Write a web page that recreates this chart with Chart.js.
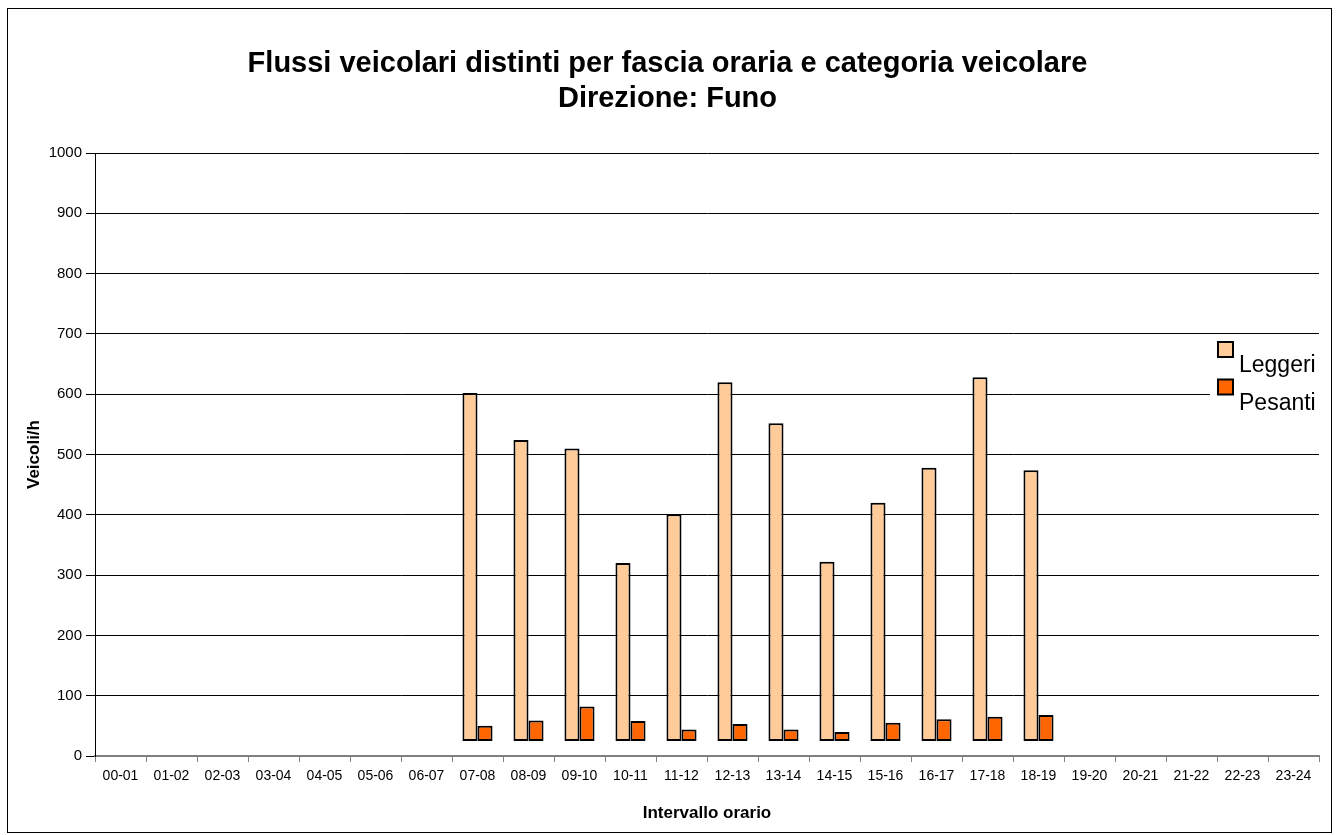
<!DOCTYPE html>
<html>
<head>
<meta charset="utf-8">
<title>Flussi veicolari - Direzione Funo</title>
<script src="https://cdn.jsdelivr.net/npm/chart.js@4/dist/chart.umd.min.js"></script>
<style>
  html, body { margin: 0; padding: 0; background: #fff; }
  #wrap { width: 1338px; height: 835px; position: relative; }
</style>
</head>
<body>
<div id="wrap"><canvas id="chart"></canvas></div>
<script>
// fasce orarie
const hours = ['00-01', '01-02', '02-03', '03-04', '04-05', '05-06', '06-07', '07-08',
  '08-09', '09-10', '10-11', '11-12', '12-13', '13-14', '14-15', '15-16', '16-17',
  '17-18', '18-19', '19-20', '20-21', '21-22', '22-23', '23-24'];

// veicoli/h (rilievo 07-19)
const leggeri = [null, null, null, null, null, null, null, 602,
  524, 510, 320, 401, 620, 552, 322, 420, 478, 628, 474,
  null, null, null, null, null];
const pesanti = [null, null, null, null, null, null, null, 50,
  59, 82, 58, 44, 53, 44, 40, 55, 61, 65, 68,
  null, null, null, null, null];

const yTicks = [0, 100, 200, 300, 400, 500, 600, 700, 800, 900, 1000];

// base "3D" delle colonne come nel grafico excel
const FLOOR = 25;
const floating = arr => arr.map(v => v == null ? null : [FLOOR, v]);

const FONT = "'Liberation Sans', Arial, sans-serif";

// legenda sovrapposta all'area del grafico, a destra
const sideLegend = {
  id: 'sideLegend',
  afterDraw(chart) {
    const ctx = chart.ctx;
    ctx.save();
    ctx.fillStyle = '#fff';
    ctx.fillRect(1210, 336, 120, 78);
    chart.data.datasets.forEach((ds, i) => {
      const y = 342 + i * 37.5;
      ctx.fillStyle = ds.backgroundColor;
      ctx.fillRect(1218, y, 15, 15);
      ctx.lineWidth = 2;
      ctx.strokeStyle = '#000';
      ctx.strokeRect(1218, y, 15, 15);
      ctx.fillStyle = '#000';
      ctx.font = `23px ${FONT}`;
      ctx.textBaseline = 'alphabetic';
      ctx.fillText(ds.label, 1239, y + 30);
    });
    ctx.restore();
  }
};

const frame = {
  id: 'frame',
  afterDraw(chart) {
    const ctx = chart.ctx;
    ctx.save();
    ctx.strokeStyle = '#000';
    ctx.lineWidth = 1;
    ctx.strokeRect(7.5, 8.5, 1324, 824);
    ctx.restore();
  }
};

new Chart(document.getElementById('chart'), {
  type: 'bar',
  data: {
    labels: hours,
    datasets: [
      {
        label: 'Leggeri',
        data: floating(leggeri),
        backgroundColor: '#FFCC99',
        borderColor: '#000',
        borderWidth: 2,
        borderSkipped: false
      },
      {
        label: 'Pesanti',
        data: floating(pesanti),
        backgroundColor: '#FF6600',
        borderColor: '#000',
        borderWidth: 2,
        borderSkipped: false
      }
    ]
  },
  options: {
    responsive: true,
    maintainAspectRatio: false,
    animation: false,
    datasets: { bar: { categoryPercentage: 0.59, barPercentage: 1.0 } },
    layout: { padding: { left: 16, right: 19, top: 0, bottom: 9 } },
    scales: {
      x: {
        grid: { drawOnChartArea: false, drawTicks: true, tickLength: 6, color: '#808080', offset: true },
        border: { color: '#808080', width: 2 },
        ticks: {
          color: '#000', autoSkip: false, maxRotation: 0, padding: 6,
          font: { family: FONT, size: 14 }
        },
        title: {
          display: true, text: 'Intervallo orario', color: '#000',
          font: { family: FONT, size: 17, weight: 'bold' },
          padding: { top: 0, bottom: 2 }
        },
        afterFit: s => { s.height = 70; }
      },
      y: {
        min: 0,
        max: 1000,
        afterBuildTicks: s => { s.ticks = yTicks.map(v => ({ value: v })); },
        grid: { color: '#000', lineWidth: 1, tickLength: 9 },
        border: { color: '#000', width: 1 },
        ticks: {
          color: '#000', padding: 4,
          font: { family: FONT, size: 15 },
          callback: v => String(v)
        },
        title: {
          display: true, text: 'Veicoli/h', color: '#000',
          font: { family: FONT, size: 17, weight: 'bold' },
          padding: { top: 8, bottom: 0 }
        },
        afterFit: s => { s.width = 79; }
      }
    },
    plugins: {
      legend: { display: false },
      tooltip: { enabled: false },
      title: {
        display: true,
        text: ['Flussi veicolari distinti per fascia oraria e categoria veicolare', 'Direzione: Funo'],
        color: '#000',
        font: { family: FONT, size: 29, weight: 'bold', lineHeight: 1.19 },
        padding: { top: 47, bottom: 37 }
      }
    }
  },
  plugins: [sideLegend, frame]
});
</script>
</body>
</html>
